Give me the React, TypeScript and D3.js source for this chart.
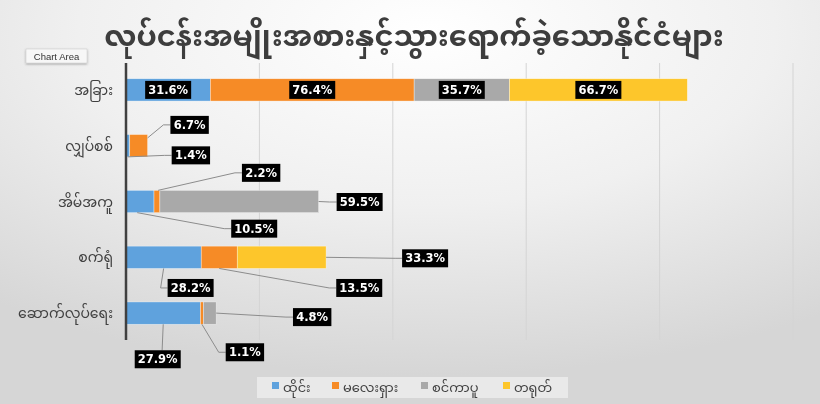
import React from 'react';
import * as d3 from 'd3';

const title = 'လုပ်ငန်းအမျိုးအစားနှင့်သွားရောက်ခဲ့သောနိုင်ငံများ';
const categories = ['အခြား', 'လျှပ်စစ်', 'အိမ်အကူ', 'စက်ရုံ', 'ဆောက်လုပ်ရေး'];
const seriesNames = ['ထိုင်း', 'မလေးရှား', 'စင်ကာပူ', 'တရုတ်'];
const thailand = [31.6, 1.4, 10.5, 28.2, 27.9];
const malaysia = [76.4, 6.7, 2.2, 13.5, 1.1];
const singapore = [35.7, 0, 59.5, 0, 4.8];
const china = [66.7, 0, 0, 33.3, 0];
const xTicks = [0, 50, 100, 150, 200, 250];

const colors = ['#5fa2dd', '#f68b26', '#a9a9a9', '#fdc62b'];
const MM_FONT = "'Noto Sans Myanmar', 'Padauk', 'Myanmar Text', 'Noto Sans', sans-serif";
const LABEL_FONT = "'DejaVu Sans', Verdana, sans-serif";

// label placement per series/category: null = centred inside the segment,
// otherwise [anchor fx along segment, anchor fy (-1 top .. 1 bottom), box dx, box dy]
type Place = [number, number, number, number] | null;
const placements: Place[][] = [
  [null, [0.5, 1, 63, -1.5], [0.4, 1, 117, 16], [0.5, 1, 27, 19.5], [0.5, 1, -5.5, 35]],
  [null, [1, -0.7, 42, -13], [0.7, -1, 103, -17.5], [0.5, 1, 140, 19.5], [0.5, 1, 43, 28]],
  [null, null, [1, 0, 41, 0.5], null, [1, 0, 96, 4]],
  [null, null, null, [1, 0, 99, 1], null],
];

const W = 820;
const H = 404;
const margin = { top: 62, right: 27, bottom: 63, left: 126 };

export default function App() {
  const series = [thailand, malaysia, singapore, china];

  const x = d3.scaleLinear()
    .domain([0, 250])
    .range([margin.left, W - margin.right]);

  const y = d3.scaleBand<string>()
    .domain(categories)
    .range([margin.top, H - margin.bottom])
    .paddingInner(0.6)
    .paddingOuter(0.3);

  const table = categories.map((c, i) => {
    const row: Record<string, number | string> = { cat: c };
    seriesNames.forEach((s, k) => { row[s] = series[k][i]; });
    return row;
  });
  const stacked = d3.stack<Record<string, number | string>>()
    .keys(seriesNames)
    .value((d, key) => d[key] as number)(table);

  const bh = y.bandwidth();
  const labels: React.ReactNode[] = [];

  stacked.forEach((layer, k) => {
    layer.forEach((seg, i) => {
      const v = series[k][i];
      if (!v) return;
      const x0 = x(seg[0]);
      const x1 = x(seg[1]);
      const yTop = y(categories[i]) as number;
      const cy = yTop + bh / 2;
      const text = `${v.toFixed(1)}%`;
      const bw = text.length * 7.6 + 8;
      const bhh = 18;
      const p = placements[k][i];
      let cx = (x0 + x1) / 2;
      let by = cy;
      let leader: string | null = null;
      if (p) {
        const ax = x0 + (x1 - x0) * p[0];
        const ay = cy + (bh / 2) * p[1];
        cx = ax + p[2];
        by = ay + p[3];
        if (Math.abs(p[2]) < bw / 2) {
          const ty = p[3] > 0 ? by - bhh / 2 : by + bhh / 2;
          leader = d3.line()([[ax, ay], [ax + p[2] * 0.2, ty]]);
        } else {
          const sx = p[2] > 0 ? cx - bw / 2 : cx + bw / 2;
          const ex = p[2] > 0 ? sx - 7 : sx + 7;
          leader = d3.line()([[ax, ay], [ex, by], [sx, by]]);
        }
      }
      labels.push(
        <g key={`l-${k}-${i}`}>
          {leader && <path d={leader} fill="none" stroke="#8c8c8c" strokeWidth={1} />}
          <rect x={cx - bw / 2} y={by - bhh / 2} width={bw} height={bhh} fill="#000" />
          <text x={cx} y={by + 4} textAnchor="middle" fill="#fff" fontFamily={LABEL_FONT}
            fontWeight="bold" fontSize={11.5}>{text}</text>
        </g>
      );
    });
  });

  // legend layout
  const legendX = [272, 332, 421, 503];
  const legendY = 388;

  return (
    <svg width={W} height={H} style={{ position: 'fixed', left: 0, top: 0 }}>
      <defs>
        <radialGradient id="bg" cx="52%" cy="8%" r="85%" fx="52%" fy="8%">
          <stop offset="0%" stopColor="#ffffff" />
          <stop offset="50%" stopColor="#f0f0f0" />
          <stop offset="100%" stopColor="#d6d6d6" />
        </radialGradient>
        <filter id="sh" x="-20%" y="-30%" width="140%" height="170%">
          <feDropShadow dx="0" dy="1" stdDeviation="1.2" floodColor="#000" floodOpacity="0.35" />
        </filter>
      </defs>
      <rect width={W} height={H} fill="url(#bg)" />

      <text x={414} y={46} textAnchor="middle" fontFamily={MM_FONT} fontWeight="bold"
        fontSize={29} fill="#3d3d3d">{title}</text>

      {/* gridlines */}
      {xTicks.slice(1).map(t => (
        <line key={t} x1={x(t)} x2={x(t)} y1={63} y2={340} stroke="#d4d4d4" strokeWidth={1} />
      ))}

      {/* bars */}
      {stacked.map((layer, k) => (
        <g key={layer.key} fill={colors[k]}>
          {layer.map((seg, i) => (
            <rect key={i} x={x(seg[0])} y={y(categories[i])} width={x(seg[1]) - x(seg[0])}
              height={bh} stroke="#fff" strokeOpacity={0.6} strokeWidth={0.6} />
          ))}
        </g>
      ))}

      {/* category axis */}
      <line x1={x(0)} x2={x(0)} y1={63} y2={340} stroke="#404040" strokeWidth={2.5} />
      {categories.map(c => (
        <text key={c} x={113} y={(y(c) as number) + bh / 2 + 5} textAnchor="end"
          fontFamily={MM_FONT} fontSize={14} fill="#404040">{c}</text>
      ))}

      {labels}

      {/* legend */}
      <rect x={257} y={377} width={311} height={21} fill="#ededed" opacity={0.8} />
      {seriesNames.map((s, k) => (
        <g key={s}>
          <rect x={legendX[k]} y={legendY - 6} width={7} height={7} fill={colors[k]} />
          <text x={legendX[k] + 11} y={legendY + 4} fontFamily={MM_FONT} fontSize={13}
            fill="#404040">{s}</text>
        </g>
      ))}

      {/* "Chart Area" hover tag */}
      <g filter="url(#sh)">
        <rect x={26} y={49} width={61} height={14} fill="#f7f7f7" stroke="#c8c8c8" strokeWidth={0.5} />
      </g>
      <text x={56.5} y={59.5} textAnchor="middle" fontFamily="'Liberation Sans', Arial, sans-serif"
        fontSize={9.5} fill="#333">Chart Area</text>
    </svg>
  );
}
